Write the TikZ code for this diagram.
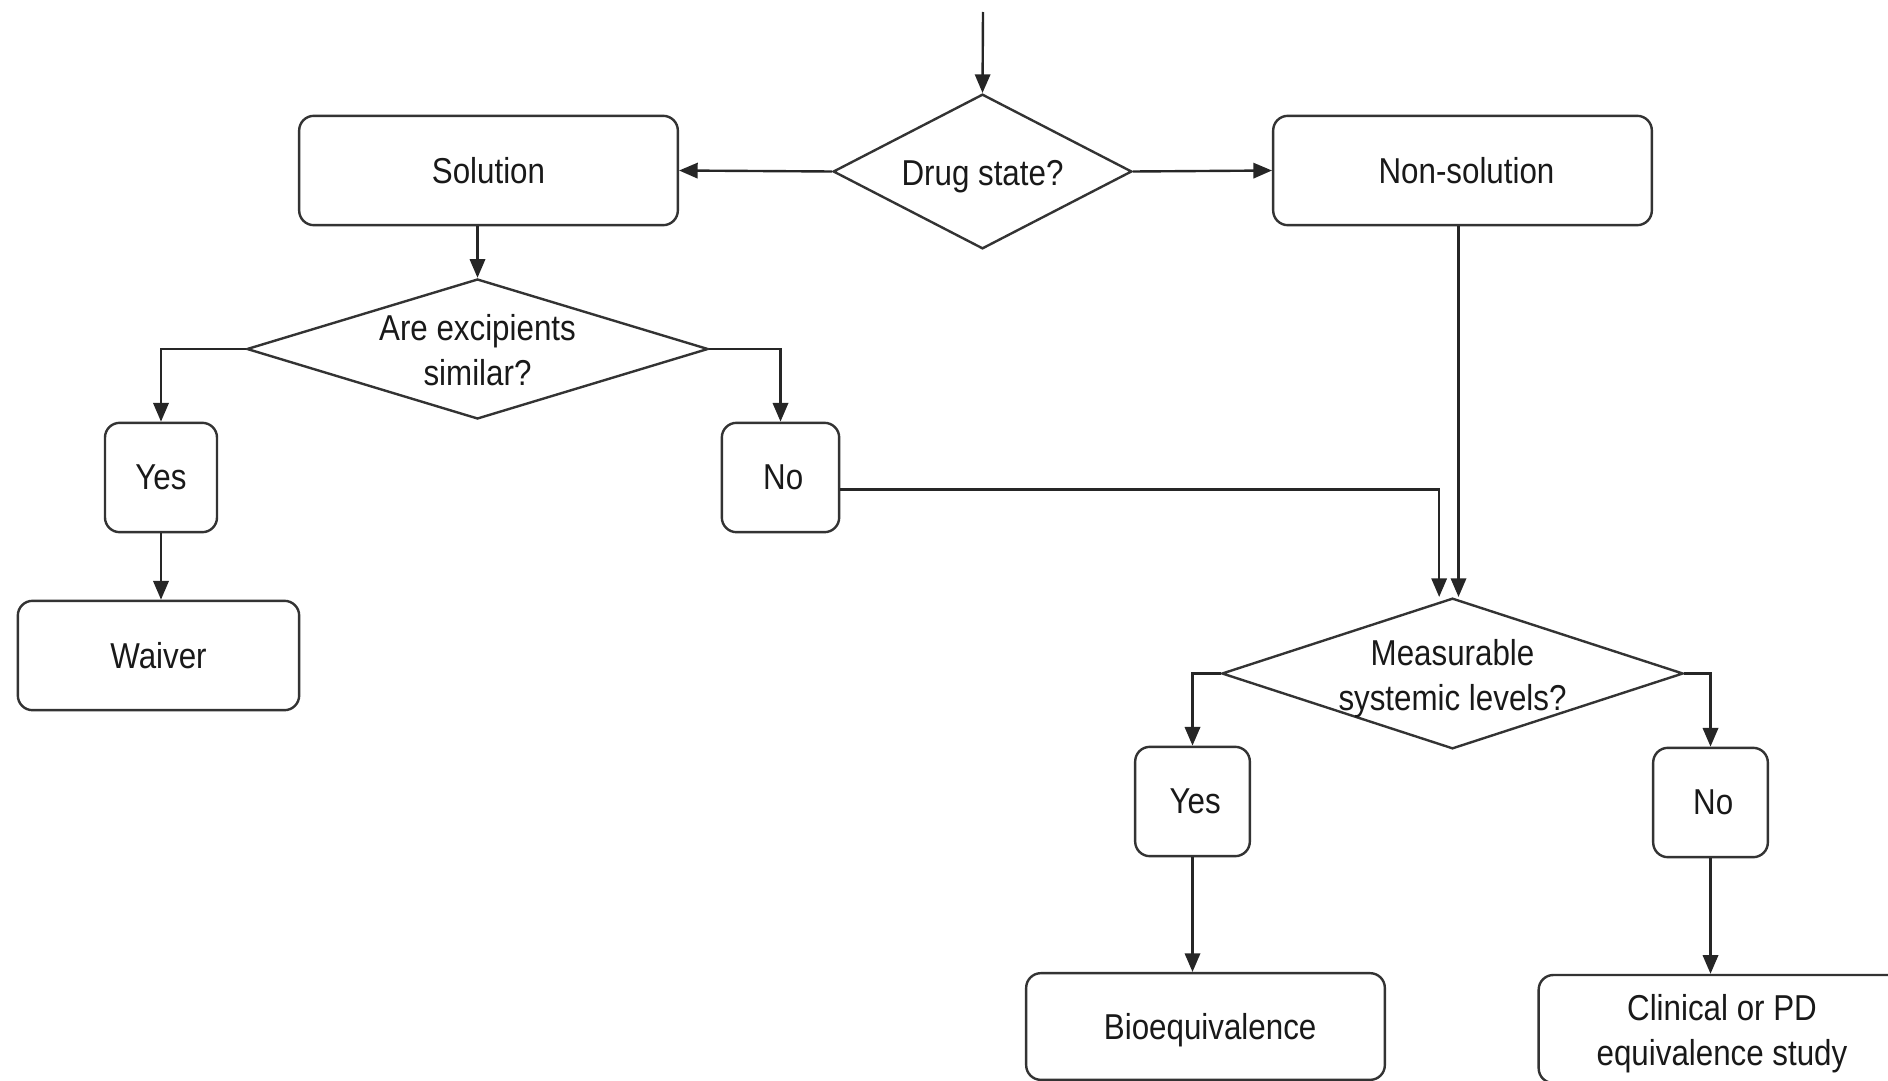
\documentclass[tikz,border=0pt]{standalone}
\usepackage{fontspec}
\newfontfamily\labfont[FakeStretch=0.87]{Liberation Sans}
\usetikzlibrary{shapes.geometric,arrows.meta}
\begin{document}
\begin{tikzpicture}[x=0.75pt,y=-0.75pt,
  line width=1.8pt,
  every node/.style={font=\labfont\fontsize{27}{34}\selectfont, text=black!90},
  rbox/.style={draw=black!80, rounded corners=11pt, inner sep=0pt, align=center},
  dia/.style={draw=black!80, shape=diamond, inner sep=0pt},
  arr/.style={draw=black!85, -{Triangle[length=14pt,width=11.5pt]}},
  ln/.style={draw=black!85}
]
\path[use as bounding box] (0,0) rectangle (1888,1081);
\clip (0,0) rectangle (1888,1081);

% decision diamonds
\node[dia, minimum width=224pt, minimum height=116pt] (drug) at (982.5,171.5) {};
\node at ([yshift=-3.5pt]drug.center) {Drug state?};
\node[dia, minimum width=346pt, minimum height=105pt] (excip) at (477.5,349) {};
\node[align=center] at ([yshift=-1pt]excip.center) {Are excipients\\similar?};
\node[dia, minimum width=346pt, minimum height=113pt] (meas) at (1452.5,673.5) {};
\node[align=center] at ([yshift=-4pt]meas.center) {Measurable\\systemic levels?};

% boxes
\node[rbox, minimum width=284pt, minimum height=82pt] (sol) at (488.5,170.5) {Solution};
\node[rbox, minimum width=284pt, minimum height=82pt] (nonsol) at (1462.5,170.5) {\hspace{6pt}Non-solution};
\node[rbox, minimum width=84pt, minimum height=82pt] (yesL) at (161,477.5) {Yes};
\node[rbox, minimum width=88pt, minimum height=82pt] (noL) at (780.5,477.5) {\hspace{4pt}No};
\node[rbox, minimum width=211pt, minimum height=82pt] (waiver) at (158.5,655.5) {Waiver};
\node[rbox, minimum width=86pt, minimum height=82pt] (yesR) at (1192.5,801.5) {\hspace{4pt}Yes};
\node[rbox, minimum width=86pt, minimum height=82pt] (noR) at (1710.5,802.5) {\hspace{4pt}No};
\node[rbox, minimum width=269pt, minimum height=80pt, text depth=-7pt] (bio) at (1205.5,1026.5) {\hspace{7pt}Bioequivalence};
\node[rbox, minimum width=275pt, minimum height=81pt] (clin) at (1722,1029) {};
\node[align=center] at ([yshift=-3.5pt]clin.center) {Clinical or PD\\equivalence study};

% entry arrow
\coordinate (start) at (983,12);
\draw[arr] (start) -- (drug.north);

% connectors
\draw[arr] (drug.west) -- (sol.east);
\draw[arr] (drug.east) -- (nonsol.west);
\draw[arr] (excip.north |- sol.south) -- (excip.north);
\draw[arr] (excip.west) -| (yesL.north);
\draw[arr] (excip.east) -| (noL.north);
\draw[arr] (yesL.south) -- (yesL.south |- waiver.north);
\draw[arr] ([yshift=-9pt]noL.east) -| ([xshift=-10pt]meas.north);
\draw[arr] ([xshift=-3pt]nonsol.south) -- ([xshift=-3pt]nonsol.south |- meas.north);
\draw[arr] (meas.west) -| (yesR.north);
\draw[arr] (meas.east) -| (noR.north);
\draw[arr] (yesR.south) -- (yesR.south |- bio.north);
\draw[arr] (noR.south) -- (noR.south |- clin.north);
\end{tikzpicture}
\end{document}
